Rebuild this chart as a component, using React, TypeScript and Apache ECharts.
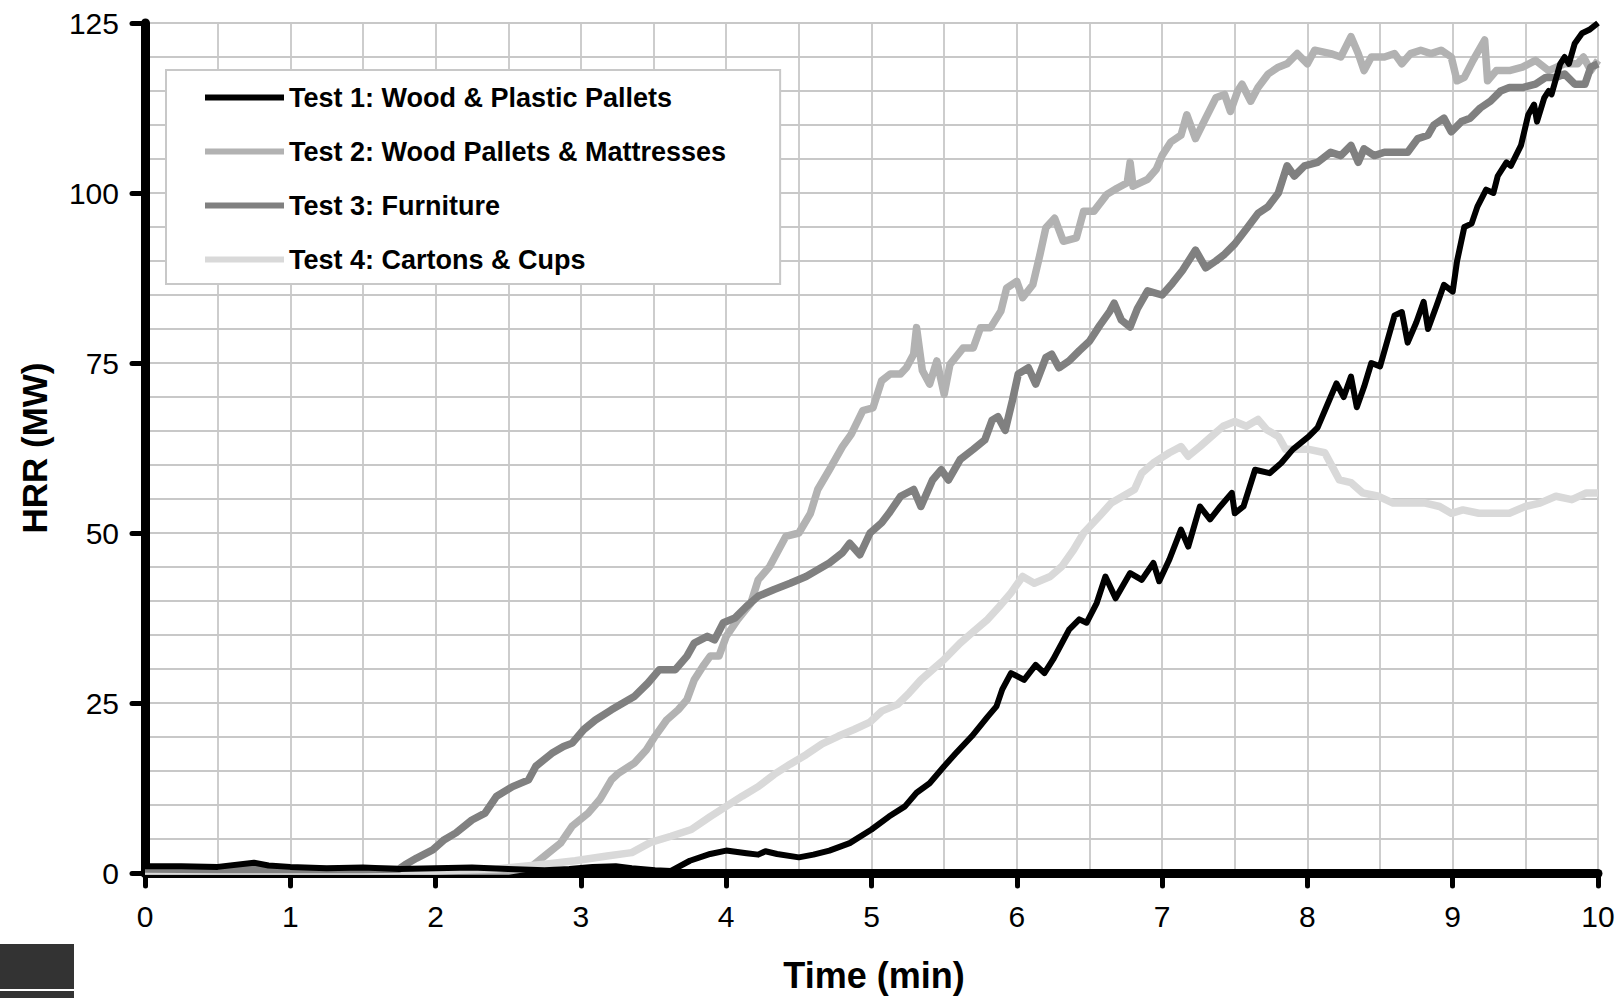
import React, { useEffect, useRef } from "react";
import * as echarts from "echarts";

const seriesNames = [
  "Test 1: Wood & Plastic Pallets",
  "Test 2: Wood Pallets & Mattresses",
  "Test 3: Furniture",
  "Test 4: Cartons & Cups",
];
const seriesColors = ["#000000", "#b2b2b2", "#808080", "#d9d9d9"];

const xTicks = [0, 1, 2, 3, 4, 5, 6, 7, 8, 9, 10];
const yTicks = [0, 25, 50, 75, 100, 125];

// Test 1: Wood & Plastic Pallets
const test1Time = [0, 0.25, 0.5, 0.75, 0.85, 1.0, 1.25, 1.5, 1.75, 2.0, 2.25, 2.5, 2.75, 2.92, 3.08, 3.24, 3.35, 3.51, 3.62, 3.75, 3.89, 4.0, 4.14, 4.22, 4.27, 4.35, 4.5, 4.6, 4.71, 4.85, 5.0, 5.12, 5.23, 5.31, 5.4, 5.5, 5.58, 5.69, 5.8, 5.86, 5.9, 5.96, 6.05, 6.13, 6.19, 6.25, 6.36, 6.43, 6.48, 6.55, 6.61, 6.68, 6.78, 6.86, 6.94, 6.98, 7.05, 7.13, 7.18, 7.26, 7.33, 7.4, 7.48, 7.5, 7.56, 7.64, 7.74, 7.82, 7.9, 8.01, 8.07, 8.14, 8.2, 8.25, 8.3, 8.34, 8.39, 8.44, 8.5, 8.56, 8.6, 8.65, 8.69, 8.75, 8.8, 8.83, 8.89, 8.94, 9.0, 9.03, 9.08, 9.13, 9.17, 9.23, 9.28, 9.31, 9.37, 9.4, 9.47, 9.52, 9.56, 9.58, 9.63, 9.66, 9.68, 9.74, 9.77, 9.8, 9.84, 9.89, 9.94, 10.0];
const test1HRR = [1.0, 1.0, 0.9, 1.5, 1.1, 0.9, 0.7, 0.8, 0.6, 0.7, 0.8, 0.6, 0.4, 0.6, 0.9, 1.0, 0.7, 0.4, 0.3, 1.8, 2.8, 3.3, 2.9, 2.7, 3.2, 2.8, 2.3, 2.7, 3.3, 4.4, 6.4, 8.3, 9.8, 11.8, 13.2, 15.7, 17.6, 20.1, 23.0, 24.5, 27, 29.4, 28.4, 30.6, 29.4, 31.4, 35.8, 37.3, 36.8, 39.7, 43.6, 40.4, 44.1, 43.1, 45.6, 42.9, 46.1, 50.5, 48.0, 53.9, 52.0, 53.9, 55.9, 52.9, 53.9, 59.3, 58.8, 60.3, 62.3, 64.2, 65.5, 69, 72, 70, 73, 68.5, 71.5, 75, 74.5, 79, 82, 82.5, 78, 81, 84, 80, 83.5, 86.5, 85.5, 90, 95, 95.5, 98, 100.5, 100, 102.5, 104.5, 104, 107, 111.5, 113, 110.5, 114, 115, 114.5, 119, 120, 119, 122, 123.5, 124, 125];

// Test 2: Wood Pallets & Mattresses
const test2Time = [0, 1, 2, 2.5, 2.65, 2.75, 2.86, 2.94, 3.05, 3.13, 3.21, 3.26, 3.37, 3.45, 3.51, 3.59, 3.67, 3.73, 3.78, 3.84, 3.89, 3.95, 4.0, 4.08, 4.17, 4.22, 4.3, 4.41, 4.5, 4.58, 4.63, 4.71, 4.8, 4.86, 4.94, 5.01, 5.07, 5.13, 5.2, 5.24, 5.29, 5.31, 5.35, 5.4, 5.45, 5.5, 5.54, 5.63, 5.7, 5.75, 5.82, 5.89, 5.93, 6.0, 6.04, 6.11, 6.16, 6.2, 6.26, 6.32, 6.41, 6.46, 6.53, 6.62, 6.69, 6.76, 6.78, 6.8, 6.9, 6.96, 7.0, 7.06, 7.13, 7.17, 7.23, 7.3, 7.37, 7.43, 7.47, 7.52, 7.55, 7.61, 7.66, 7.73, 7.8, 7.86, 7.93, 8.0, 8.05, 8.16, 8.23, 8.3, 8.35, 8.39, 8.44, 8.53, 8.6, 8.65, 8.71, 8.78, 8.85, 8.92, 8.99, 9.03, 9.08, 9.14, 9.22, 9.24, 9.3, 9.39, 9.48, 9.57, 9.66, 9.77, 9.86, 9.9, 9.95, 10];
const test2HRR = [0.3, 0.3, 0.3, 0.3, 0.8, 2.5, 4.4, 6.9, 8.8, 10.8, 13.7, 14.7, 16.2, 18.1, 20.1, 22.5, 24, 25.5, 28.4, 30.4, 31.9, 31.9, 34.8, 37.3, 39.7, 43.1, 45.1, 49.5, 50, 52.9, 56.4, 59.3, 62.7, 64.5, 68, 68.4, 72.4, 73.4, 73.4, 74.3, 76.3, 80.2, 73.9, 71.9, 75.3, 70.4, 74.8, 77.2, 77.2, 80.2, 80.2, 82.6, 86, 87, 84.6, 86.5, 91, 94.9, 96.3, 92.9, 93.4, 97.3, 97.3, 99.8, 100.7, 101.5, 104.5, 101, 102, 103.5, 105.5, 107.5, 108.5, 111.5, 108, 111, 114, 114.5, 112, 115, 116, 113.5, 115.5, 117.5, 118.5, 119, 120.5, 119, 121, 120.5, 120, 123, 120.5, 118, 120, 120, 120.5, 119, 120.5, 121, 120.5, 121, 120, 116.5, 117, 119.5, 122.5, 116.5, 118, 118, 118.5, 119.5, 118, 119, 119, 120, 118, 119.5];

// Test 3: Furniture
const test3Time = [0, 0.5, 1, 1.5, 1.75, 1.79, 1.87, 1.98, 2.06, 2.14, 2.25, 2.34, 2.42, 2.53, 2.64, 2.69, 2.8, 2.88, 2.94, 3.02, 3.1, 3.21, 3.29, 3.37, 3.46, 3.54, 3.65, 3.73, 3.78, 3.87, 3.92, 3.98, 4.06, 4.14, 4.22, 4.33, 4.44, 4.55, 4.63, 4.71, 4.8, 4.85, 4.92, 4.99, 5.07, 5.12, 5.2, 5.29, 5.34, 5.42, 5.48, 5.53, 5.61, 5.7, 5.78, 5.83, 5.87, 5.92, 5.97, 6.01, 6.08, 6.13, 6.2, 6.24, 6.29, 6.36, 6.43, 6.5, 6.57, 6.64, 6.67, 6.72, 6.78, 6.83, 6.9, 7.0, 7.07, 7.14, 7.23, 7.3, 7.37, 7.43, 7.5, 7.59, 7.66, 7.73, 7.8, 7.86, 7.91, 7.98, 8.07, 8.16, 8.23, 8.3, 8.35, 8.39, 8.46, 8.53, 8.62, 8.69, 8.76, 8.83, 8.87, 8.94, 8.99, 9.06, 9.12, 9.19, 9.26, 9.33, 9.39, 9.48, 9.57, 9.64, 9.71, 9.77, 9.84, 9.91, 9.95, 10];
const test3HRR = [0.6, 0.5, 0.5, 0.5, 0.6, 1.2, 2.2, 3.4, 4.9, 5.9, 7.8, 8.8, 11.3, 12.7, 13.7, 15.7, 17.6, 18.6, 19.1, 21.1, 22.5, 24, 25, 26, 27.9, 29.9, 29.9, 31.9, 33.8, 34.8, 34.3, 36.8, 37.5, 39.2, 40.7, 41.7, 42.6, 43.6, 44.6, 45.6, 47.1, 48.5, 46.8, 50, 51.5, 52.9, 55.4, 56.4, 53.9, 57.8, 59.3, 57.8, 60.8, 62.3, 63.7, 66.6, 67.1, 65.1, 69.5, 73.4, 74.3, 71.9, 75.8, 76.3, 74.3, 75.3, 76.8, 78.2, 80.5, 82.6, 83.8, 81.3, 80.3, 83, 85.6, 85, 86.7, 88.6, 91.6, 89, 90, 91, 92.5, 95, 97, 98, 100, 104, 102.5, 104, 104.5, 106, 105.5, 107, 104.5, 106.5, 105.5, 106, 106, 106, 108, 108.5, 110, 111, 109, 110.5, 111, 112.5, 113.5, 115, 115.5, 115.5, 116, 117, 117, 117.5, 116, 116, 118.5, 119];

// Test 4: Cartons & Cups
const test4Time = [0, 1, 2, 2.42, 2.75, 2.96, 3.18, 3.35, 3.48, 3.62, 3.76, 3.89, 4.0, 4.11, 4.22, 4.33, 4.44, 4.55, 4.66, 4.77, 4.88, 4.99, 5.07, 5.18, 5.26, 5.34, 5.42, 5.5, 5.61, 5.69, 5.8, 5.88, 5.96, 6.04, 6.12, 6.23, 6.31, 6.39, 6.46, 6.57, 6.65, 6.73, 6.81, 6.86, 6.94, 7.05, 7.13, 7.18, 7.26, 7.34, 7.42, 7.5, 7.58, 7.66, 7.72, 7.8, 7.85, 7.93, 8.01, 8.12, 8.17, 8.22, 8.3, 8.38, 8.49, 8.59, 8.7, 8.81, 8.91, 8.99, 9.07, 9.18, 9.28, 9.39, 9.5, 9.6, 9.71, 9.82, 9.92, 10];
const test4HRR = [0.3, 0.3, 0.3, 0.6, 1.3, 1.8, 2.5, 3.0, 4.5, 5.4, 6.4, 8.3, 9.8, 11.3, 12.7, 14.5, 16.0, 17.4, 19.0, 20.1, 21.1, 22.2, 23.8, 24.8, 26.5, 28.4, 29.9, 31.4, 33.8, 35.3, 37.3, 39.2, 41.2, 43.6, 42.6, 43.6, 45.1, 47.5, 50, 52.5, 54.4, 55.4, 56.4, 58.8, 60.3, 61.8, 62.7, 61.3, 62.7, 64.2, 65.7, 66.4, 65.7, 66.7, 65.2, 64.2, 62.3, 62.3, 62.3, 61.8, 59.8, 57.8, 57.4, 55.9, 55.4, 54.4, 54.4, 54.4, 53.9, 52.9, 53.4, 52.9, 52.9, 52.9, 53.9, 54.4, 55.4, 54.9, 55.9, 55.9];

const FONT = "'Liberation Sans', Arial, Helvetica, sans-serif";
const GRID_COLOR = "#c8c8c8";

const zip = (xs: number[], ys: number[]) => xs.map((x, i) => [x, ys[i]]);

export default function App() {
  const ref = useRef<HTMLDivElement>(null);

  useEffect(() => {
    if (!ref.current) return;
    const chart = echarts.init(ref.current, null, { renderer: "svg" });
    const times = [test1Time, test2Time, test3Time, test4Time];
    const values = [test1HRR, test2HRR, test3HRR, test4HRR];
    const widths = [6, 7.5, 7.5, 7.5];
    const zs = [6, 3, 5, 4];

    chart.setOption({
      animation: false,
      backgroundColor: "#ffffff",
      grid: { left: 145, right: 22, top: 23, bottom: 125, containLabel: false },
      xAxis: {
        type: "value",
        min: xTicks[0],
        max: xTicks[xTicks.length - 1],
        interval: 1,
        axisLine: { show: true, lineStyle: { color: "#000", width: 9, cap: "round" } },
        axisTick: { show: true, length: 13, lineStyle: { color: "#000", width: 5, cap: "round" } },
        axisLabel: { color: "#000", fontSize: 30, fontFamily: FONT, margin: 28 },
        splitLine: { show: true, lineStyle: { color: GRID_COLOR, width: 1.8 } },
        minorTick: { show: false, splitNumber: 2 },
        minorSplitLine: { show: true, lineStyle: { color: GRID_COLOR, width: 1.8 } },
      },
      yAxis: {
        type: "value",
        min: yTicks[0],
        max: yTicks[yTicks.length - 1],
        interval: 25,
        axisLine: { show: true, lineStyle: { color: "#000", width: 9, cap: "round" } },
        axisTick: { show: true, length: 13, lineStyle: { color: "#000", width: 5, cap: "round" } },
        axisLabel: { color: "#000", fontSize: 30, fontFamily: FONT, margin: 26 },
        splitLine: { show: true, lineStyle: { color: GRID_COLOR, width: 1.8 } },
        minorTick: { show: false, splitNumber: 5 },
        minorSplitLine: { show: true, lineStyle: { color: GRID_COLOR, width: 1.8 } },
      },
      legend: {
        orient: "vertical",
        left: 166,
        top: 70,
        padding: [14, 54, 11, 39],
        itemGap: 27,
        itemWidth: 79,
        itemHeight: 6,
        icon: "rect",
        backgroundColor: "#ffffff",
        borderColor: GRID_COLOR,
        borderWidth: 2,
        borderRadius: 0,
        selectedMode: false,
        textStyle: { color: "#000", fontSize: 27, fontWeight: "bold", fontFamily: FONT },
        data: seriesNames,
      },
      series: seriesNames.map((name, i) => ({
        name,
        type: "line",
        data: zip(times[i], values[i]),
        showSymbol: false,
        symbol: "none",
        color: seriesColors[i],
        z: zs[i],
        lineStyle: { color: seriesColors[i], width: widths[i], join: "round" },
      })),
      graphic: [
        {
          type: "text",
          x: 34,
          y: 448,
          rotation: Math.PI / 2,
          style: {
            text: "HRR (MW)",
            fontSize: 35,
            fontWeight: "bold",
            fontFamily: FONT,
            fill: "#000",
            align: "center",
            verticalAlign: "middle",
          },
        },
        {
          type: "text",
          x: 874,
          y: 975,
          style: {
            text: "Time (min)",
            fontSize: 36,
            fontWeight: "bold",
            fontFamily: FONT,
            fill: "#000",
            align: "center",
            verticalAlign: "middle",
          },
        },
        { type: "rect", left: 0, top: 944, shape: { width: 74, height: 45 }, style: { fill: "#333333" } },
        { type: "rect", left: 0, top: 991, shape: { width: 74, height: 7 }, style: { fill: "#333333" } },
      ],
    });

    return () => chart.dispose();
  }, []);

  return (
    <div
      ref={ref}
      style={{ position: "absolute", left: 0, top: 0, width: 1620, height: 998 }}
    />
  );
}
